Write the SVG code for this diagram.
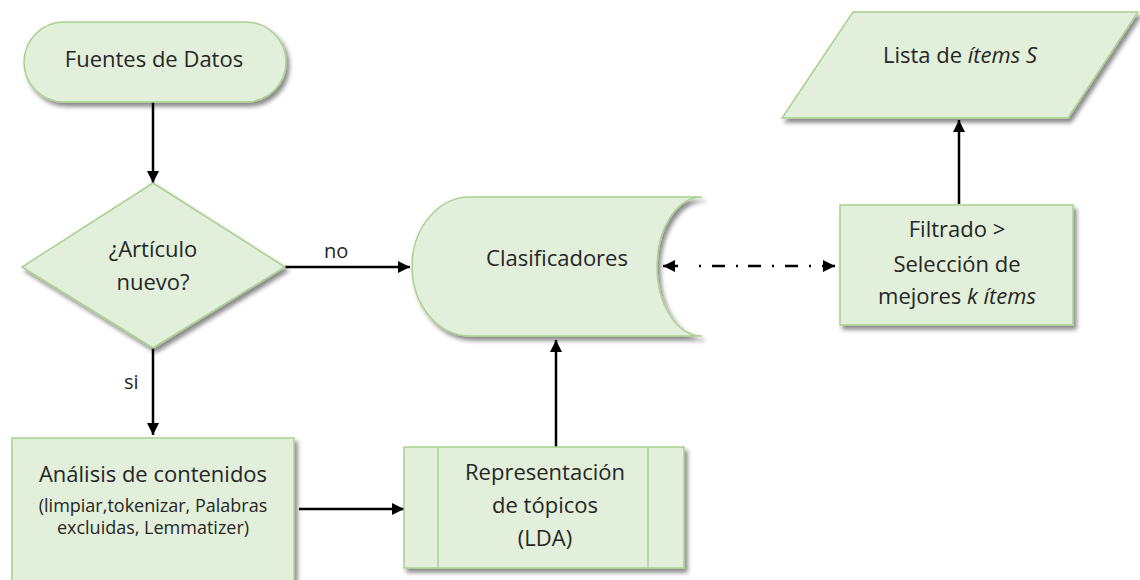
<svg xmlns="http://www.w3.org/2000/svg" width="1140" height="580" viewBox="0 0 1140 580">
  <style>
    .shape { fill: #e2efda; stroke: #a9d18e; stroke-width: 1.5; filter: url(#shadow); }
    .inner { fill: none; stroke: #a9d18e; stroke-width: 1.5; }
    .t { font-family: "Open Sans", "Liberation Sans", sans-serif; font-size: 22px; fill: #262626; text-anchor: middle; }
    .s { font-size: 18px; }
    .lbl { font-family: "Open Sans", "Liberation Sans", sans-serif; font-size: 20px; fill: #262626; }
    .conn { fill: none; stroke: #000; stroke-width: 2.5; }
  </style>
  <defs>
    <filter id="shadow" x="-10%" y="-10%" width="130%" height="140%">
      <feDropShadow dx="3" dy="4" stdDeviation="2.2" flood-color="#000" flood-opacity="0.45"/>
    </filter>
    <marker id="arrow" viewBox="0 0 12 12" refX="12" refY="6" markerWidth="12" markerHeight="12" markerUnits="userSpaceOnUse" orient="auto-start-reverse">
      <path d="M0,0 L12,6 L0,12 Z" fill="#000"/>
    </marker>
  </defs>

  <rect width="1140" height="580" fill="#fff"/>

  <!-- connectors -->
  <g id="connectors">
    <path class="conn" d="M153,102 L153,183" marker-end="url(#arrow)"/>
    <path class="conn" d="M285,267 L410,267" marker-end="url(#arrow)"/>
    <path class="conn" d="M153,348 L153,435" marker-end="url(#arrow)"/>
    <path class="conn" d="M299,509 L404,509" marker-end="url(#arrow)"/>
    <path class="conn" d="M556,447 L556,340" marker-end="url(#arrow)"/>
    <path class="conn" d="M959,204 L959,120" marker-end="url(#arrow)"/>
    <path class="conn" d="M663,266 L835,266" stroke-dasharray="15 21 2 11 13 11 2 10 13 11 2 11 13 11 2 11 13" marker-start="url(#arrow)" marker-end="url(#arrow)"/>
    <text class="lbl" x="324" y="258">no</text>
    <text class="lbl" x="124" y="389">si</text>
  </g>

  <!-- start terminal -->
  <g id="fuentes">
    <rect class="shape" x="24" y="22" width="262" height="80" rx="40" ry="40"/>
    <text class="t" x="154" y="67">Fuentes de Datos</text>
  </g>

  <!-- decision -->
  <g id="articulo-nuevo">
    <polygon class="shape" points="153,183 285,267 153,348 22,267"/>
    <text class="t" x="153" y="257">¿Artículo</text>
    <text class="t" x="153" y="290">nuevo?</text>
  </g>

  <!-- stored data -->
  <g id="clasificadores">
    <path class="shape" d="M470,197 L702,197 A45,69.5 0 0 0 702,336 L470,336 A58,69.5 0 0 1 470,197 Z"/>
    <text class="t" x="557" y="266">Clasificadores</text>
  </g>

  <!-- process -->
  <g id="filtrado">
    <rect class="shape" x="840" y="205" width="233" height="120"/>
    <text class="t" x="957" y="237">Filtrado &gt;</text>
    <text class="t" x="957" y="272">Selección de</text>
    <text class="t" x="957" y="304">mejores <tspan font-style="italic">k ítems</tspan></text>
  </g>

  <!-- output -->
  <g id="lista">
    <polygon class="shape" points="853,12 1138,12 1068,118 782,118"/>
    <text class="t" x="960" y="63">Lista de <tspan font-style="italic">ítems S</tspan></text>
  </g>

  <!-- content analysis -->
  <g id="analisis">
    <rect class="shape" x="12" y="438" width="282" height="160"/>
    <text class="t" x="153" y="482">Análisis de contenidos</text>
    <text class="t s" x="153" y="512">(limpiar,tokenizar, Palabras</text>
    <text class="t s" x="153" y="534">excluidas, Lemmatizer)</text>
  </g>

  <!-- predefined process -->
  <g id="representacion">
    <rect class="shape" x="404" y="447" width="280" height="121"/>
    <line class="inner" x1="438" y1="447" x2="438" y2="568"/>
    <line class="inner" x1="648" y1="447" x2="648" y2="568"/>
    <text class="t" x="545" y="480">Representación</text>
    <text class="t" x="545" y="513">de tópicos</text>
    <text class="t" x="545" y="546">(LDA)</text>
  </g>
</svg>
